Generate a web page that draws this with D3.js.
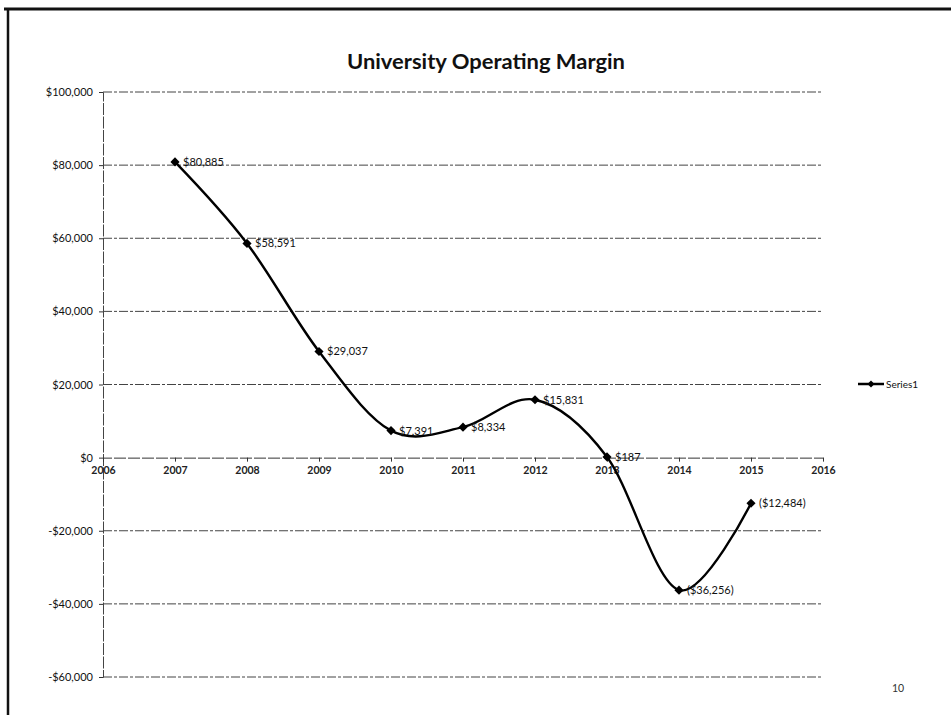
<!DOCTYPE html>
<html><head><meta charset="utf-8">
<script src="https://cdn.jsdelivr.net/npm/d3@7/dist/d3.min.js"></script>
<style>body{margin:0;background:#fff}</style>
</head><body>
<svg id="c" width="951" height="715"></svg>
<script>
const years = [2007, 2008, 2009, 2010, 2011, 2012, 2013, 2014, 2015];
const values = [80885, 58591, 29037, 7391, 8334, 15831, 187, -36256, -12484];
const labels = ["$80,885", "$58,591", "$29,037", "$7,391", "$8,334", "$15,831", "$187", "($36,256)", "($12,484)"];
const yTicks = [100000, 80000, 60000, 40000, 20000, 0, -20000, -40000, -60000];
const xTicks = [2006, 2007, 2008, 2009, 2010, 2011, 2012, 2013, 2014, 2015, 2016];
const title = "University Operating Margin";
const seriesName = "Series1";

const svg = d3.select("#c");
const font = "Lato, 'Open Sans', 'Liberation Sans', sans-serif";

// page frame
svg.append("line").attr("x1", 4).attr("x2", 951).attr("y1", 9).attr("y2", 9).attr("stroke", "#111").attr("stroke-width", 3);
svg.append("line").attr("x1", 8).attr("x2", 8).attr("y1", 8).attr("y2", 715).attr("stroke", "#111").attr("stroke-width", 2.5);

const x = d3.scaleLinear().domain([2006, 2016]).range([103, 823]);
const y = d3.scaleLinear().domain([-60000, 100000]).range([677, 92]);

// title
svg.append("text").attr("x", 486).attr("y", 69).attr("text-anchor", "middle")
  .attr("font-family", font).attr("font-weight", "bold").attr("font-size", 20).attr("fill", "#111")
  .attr("textLength", 278).attr("lengthAdjust", "spacingAndGlyphs").text(title);

// gridlines
svg.append("g").selectAll("line").data(yTicks.filter(d => d !== 0)).join("line")
  .attr("x1", 103).attr("x2", 823).attr("y1", d => y(d)).attr("y2", d => y(d))
  .attr("stroke", "#444").attr("stroke-width", 1).attr("stroke-dasharray", "9,2,3,2");

// y axis
const yAxis = d3.axisLeft(y).tickValues(yTicks).tickSize(4)
  .tickFormat(d => (d < 0 ? "-$" : "$") + d3.format(",")(Math.abs(d)));
const gy = svg.append("g").attr("transform", "translate(103,0)").call(yAxis);
gy.select(".domain").attr("stroke", "#444").attr("stroke-dasharray", "12,1.5");
gy.selectAll(".tick line").attr("stroke", "#333");
gy.selectAll("text").attr("font-family", font).attr("font-size", 11).attr("fill", "#111").attr("x", -10);

// x axis at zero
const xAxis = d3.axisBottom(x).tickValues(xTicks).tickSize(4).tickFormat(d3.format("d"));
const gx = svg.append("g").attr("transform", `translate(0,${y(0)})`).call(xAxis);
gx.select(".domain").attr("stroke", "#333").attr("stroke-dasharray", "12,2");
gx.selectAll(".tick line").attr("stroke", "#333");
gx.selectAll("text").attr("font-family", font).attr("font-size", 10.5).attr("font-weight", "bold").attr("fill", "#222").attr("dy", "0.85em");

// line
const pts = years.map((yr, i) => [x(yr), y(values[i])]);
svg.append("path").attr("d", d3.line().curve(d3.curveCardinal.tension(0))(pts))
  .attr("fill", "none").attr("stroke", "#000").attr("stroke-width", 2.4);

// markers (square rotated 45deg, like Excel diamonds)
const diamond = d3.symbol().type(d3.symbolSquare).size(42);
svg.append("g").selectAll("path").data(pts).join("path")
  .attr("d", diamond).attr("transform", d => `translate(${d[0]},${d[1]}) rotate(45)`).attr("fill", "#000");

// data labels
svg.append("g").selectAll("text").data(years).join("text")
  .attr("x", (d) => x(d) + 8).attr("y", (d, i) => y(values[i]) + 4)
  .attr("font-family", font).attr("font-size", 11).attr("fill", "#111")
  .text((d, i) => labels[i]);

// legend
const lg = svg.append("g");
lg.append("line").attr("x1", 858).attr("x2", 884).attr("y1", 384).attr("y2", 384).attr("stroke", "#000").attr("stroke-width", 2.5);
lg.append("path").attr("d", d3.symbol().type(d3.symbolSquare).size(24)).attr("transform", "translate(871,384) rotate(45)").attr("fill", "#000");
lg.append("text").attr("x", 886).attr("y", 388).attr("font-family", font).attr("font-size", 10).attr("fill", "#111").text(seriesName);

// page number
svg.append("text").attr("x", 898).attr("y", 692).attr("text-anchor", "middle").attr("font-family", font).attr("font-size", 10.5).attr("fill", "#333").text("10");
</script>
</body></html>
